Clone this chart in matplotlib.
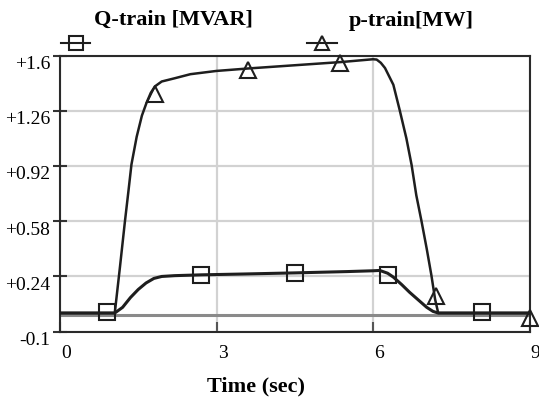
import numpy as np
import matplotlib; matplotlib.use("Agg")
import matplotlib.pyplot as plt
from matplotlib.lines import Line2D
from matplotlib.transforms import ScaledTranslation

plt.rcParams.update({"font.family": "Liberation Serif", "font.size": 14})

# ---- data ----
q_t = [0, 1.05, 1.2, 1.35, 1.5, 1.65, 1.8, 1.95, 2.2, 2.71, 3.5, 4.5, 5.5, 6.0,
       6.13, 6.28, 6.39, 6.55, 6.7, 6.87, 7.03, 7.15, 7.25, 8.08, 9.0]
q_v = [0.015, 0.015, 0.05, 0.11, 0.16, 0.2, 0.228, 0.24, 0.245, 0.25, 0.255, 0.262, 0.27, 0.275,
       0.277, 0.26, 0.236, 0.19, 0.143, 0.095, 0.05, 0.025, 0.015, 0.015, 0.015]
q_mark_t = [0.91, 2.71, 4.5, 6.28, 8.08]
q_mark_v = [0.024, 0.25, 0.262, 0.25, 0.024]

p_t = [0, 1.05, 1.15, 1.245, 1.31, 1.37, 1.47, 1.57, 1.66, 1.74, 1.82, 1.95, 2.2, 2.5, 3.0, 3.6, 4.5,
       5.4, 6.0, 6.07, 6.15, 6.23, 6.39, 6.51, 6.64, 6.74, 6.83, 6.93, 7.03, 7.12, 7.19, 7.25, 9.0]
p_v = [0.015, 0.015, 0.3, 0.58, 0.76, 0.93, 1.1, 1.23, 1.31, 1.37, 1.41, 1.44, 1.46, 1.485, 1.505, 1.52, 1.54,
       1.56, 1.577, 1.575, 1.555, 1.523, 1.42, 1.266, 1.09, 0.926, 0.74, 0.58, 0.41, 0.246, 0.10, 0.015, 0.015]
p_mark_t = [1.82, 3.6, 5.37, 7.2, 9.0]
p_mark_v = [1.36, 1.513, 1.554, 0.12, -0.015]

y_ticks = [-0.1, 0.24, 0.58, 0.92, 1.26, 1.6]
y_labels = ["-0.1", "+0.24", "+0.58", "+0.92", "+1.26", "+1.6"]
x_ticks = [0, 3, 6, 9]

C_LINE, C_GRID = "#1e1e1e", "#d2d2d2"
W, H = 539, 402

fig = plt.figure(figsize=(W / 100, H / 100), dpi=100)
ax = fig.add_axes([60 / W, 1 - 332.7 / H, (529.5 - 60) / W, (332.7 - 56.5) / H])

ax.set_xlim(0, 9); ax.set_ylim(-0.1, 1.6)
ax.set_xticks(x_ticks); ax.set_yticks(y_ticks); ax.set_yticklabels(y_labels)
ax.grid(True, color=C_GRID, lw=1.6)
ax.set_axisbelow(True)
for s in ax.spines.values():
    s.set_color("#2a2a2a"); s.set_linewidth(1.5)
ax.tick_params(axis="y", direction="inout", length=10, width=1.5, color="#333", pad=2, labelsize=14)
ax.tick_params(axis="x", direction="in", length=7, width=1.5, color="#555", pad=9, labelsize=14)

# y labels sit a little below their ticks, x labels a little to the right
for lab in ax.get_yticklabels():
    lab.set_transform(lab.get_transform() + ScaledTranslation(0, -6 / 100, fig.dpi_scale_trans))
for lab in ax.get_xticklabels():
    lab.set_transform(lab.get_transform() + ScaledTranslation(6 / 100, 0, fig.dpi_scale_trans))

ax.axhline(0, color="#8a8a8a", lw=2.2, zorder=1.5)

ax.plot(p_t, p_v, color=C_LINE, lw=1.8, zorder=3)
ax.plot(q_t, q_v, color=C_LINE, lw=2.2, zorder=3)
ax.plot(q_mark_t, q_mark_v, ls="none", marker="s", ms=11, mfc="none", mec=C_LINE, mew=1.5, zorder=4)
ax.plot(p_mark_t, p_mark_v, ls="none", marker="^", ms=11, mfc="none", mec=C_LINE, mew=1.5,
        zorder=4, clip_on=False)

ax.set_xlabel("Time (sec)", fontsize=16, fontweight="bold")
ax.xaxis.set_label_coords((256 - 60) / (529.5 - 60), -0.16)

# legend drawn above the plot, like the original
fig.add_artist(Line2D([61 / W, 75.5 / W, 90 / W], [1 - 43.5 / H] * 3, color=C_LINE, lw=1.5,
                      marker="s", markevery=[1], ms=10, mfc="none", mew=1.5))
fig.add_artist(Line2D([307 / W, 322 / W, 337 / W], [1 - 44 / H] * 3, color=C_LINE, lw=1.5,
                      marker="^", markevery=[1], ms=10, mfc="none", mew=1.5))
fig.text(173.5 / W, 1 - 20 / H, "Q-train [MVAR]", ha="center", va="center", fontsize=16, fontweight="bold")
fig.text(411.5 / W, 1 - 21 / H, "p-train[MW]", ha="center", va="center", fontsize=16, fontweight="bold")

fig.savefig("out.png", dpi=100)
